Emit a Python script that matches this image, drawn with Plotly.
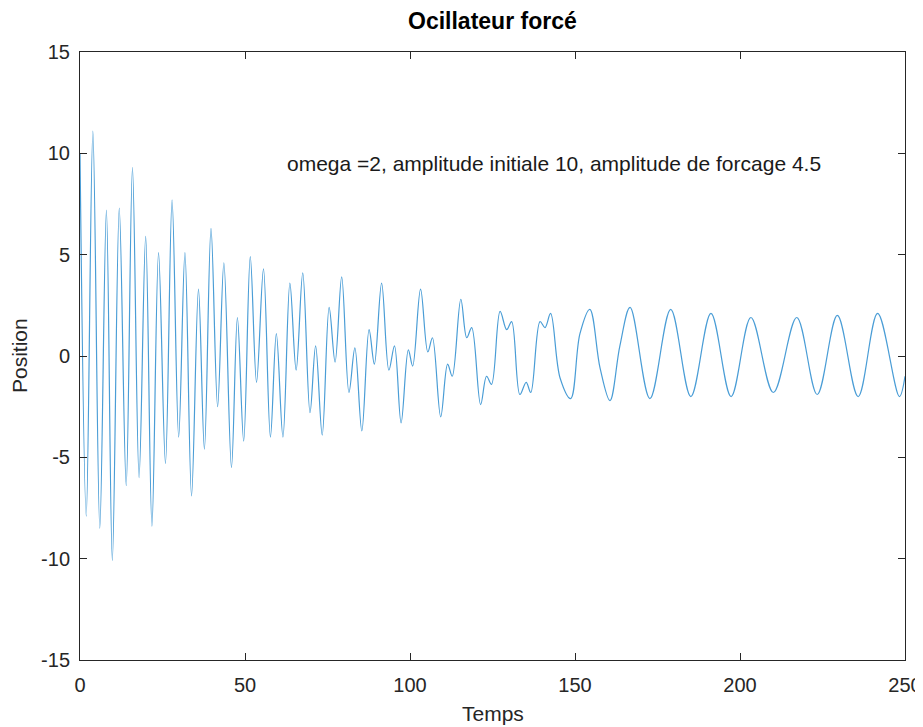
import plotly.graph_objects as go

# extrema (and a few shoulder points)
temps = [0, 1.9, 3.9, 6.0, 8.0, 9.8, 11.9, 14.0, 15.9, 17.9, 19.9, 21.8, 23.8, 25.9, 27.9, 29.9,
         31.8, 33.8, 35.9, 37.7, 39.7, 41.7, 43.6, 45.9, 47.7, 49.6, 51.6, 53.5, 55.6, 57.7, 59.5,
         61.5, 63.6, 65.5, 67.5, 69.7, 71.4, 73.4, 75.5, 77.3, 79.3, 81.5, 83.3, 85.4, 87.6, 89.2,
         91.4, 93.6, 95.3, 97.3, 99.5, 100.8, 103.2, 105.4, 106.8, 109.3, 111.4, 112.8, 115.4,
         117.2, 118.7, 121.4, 123.2, 124.7, 127.3, 129.3, 130.8, 133.3, 135.2, 136.6, 139.4, 140.9,
         142.6, 145.5, 148.7, 151.5, 154.5, 157.6, 160.6, 163.6, 166.7, 172.7, 179.0, 185.1, 191.2,
         197.3, 203.3, 210.1, 217.2, 223.4, 229.5, 235.8, 241.7, 248.3, 250]
position = [10, -7.9, 11.1, -8.5, 7.2, -10.1, 7.3, -6.4, 9.3, -6.0, 5.9, -8.4, 5.1, -5.3, 7.7, -4.0,
            5.1, -6.9, 3.3, -4.6, 6.3, -2.5, 4.6, -5.5, 1.9, -4.2, 4.9, -1.3, 4.3, -4.0, 1.1,
            -4.0, 3.6, -0.7, 4.1, -2.8, 0.5, -3.9, 2.4, -0.3, 3.9, -1.8, 0.4, -3.7, 1.3, -0.4,
            3.6, -0.7, 0.5, -3.3, 0.3, -0.5, 3.3, 0.2, 0.9, -3.0, -0.4, -1.0, 2.8,
            0.9, 1.4, -2.4, -1.0, -1.4, 2.2, 1.3, 1.7, -1.9, -1.3, -1.8, 1.7, 1.4,
            2.1, -1.1, -2.1, 1.1, 2.3, -0.6, -2.2, 0.5, 2.4, -2.1, 2.3, -2.0, 2.1,
            -2.0, 1.9, -1.8, 1.9, -1.9, 2.0, -2.0, 2.1, -2.0, -1.0]

x_ticks = [0, 50, 100, 150, 200, 250]
x_labels = ["0", "50", "100", "150", "200", "250"]
y_ticks = [-15, -10, -5, 0, 5, 10, 15]
y_labels = ["-15", "-10", "-5", "0", "5", "10", "15"]

title_text = "Ocillateur forcé"
note_text = "omega =2, amplitude initiale 10, amplitude de forcage 4.5"
x_title = "Temps"
y_title = "Position"

FONT = "Liberation Sans, Arial, sans-serif"
AXC = "#262626"

fig = go.Figure()
fig.add_trace(go.Scatter(x=temps, y=position, mode="lines",
                         line=dict(color="#4a9dd6", width=1.2, shape="spline", smoothing=1.0),
                         showlegend=False, hoverinfo="skip"))

axis_common = dict(showgrid=False, zeroline=False, showline=True, linecolor=AXC, linewidth=1,
                   mirror="ticks", ticks="inside", ticklen=7, tickcolor=AXC, tickwidth=1,
                   automargin=False,
                   tickfont=dict(family=FONT, size=20, color=AXC))

# the page body adds an 8px offset, so the figure is shrunk by that amount
fig.update_layout(
    width=915, height=719,
    margin=dict(l=72, r=18, t=44, b=67),
    paper_bgcolor="white", plot_bgcolor="white",
    xaxis=dict(range=[0, 250], tickvals=x_ticks, ticktext=x_labels, ticklabelstandoff=7,
               **axis_common),
    yaxis=dict(range=[-15, 15], tickvals=y_ticks, ticktext=y_labels, ticklabelstandoff=5,
               **axis_common),
    annotations=[
        dict(text=note_text, x=62, y=9.5, xref="x", yref="y", xanchor="left",
             yanchor="middle", showarrow=False,
             font=dict(family=FONT, size=21, color="#1a1a1a")),
        dict(text="<b>" + title_text + "</b>", x=0.5, y=1, xref="paper", yref="paper",
             xanchor="center", yanchor="middle", yshift=31, showarrow=False,
             font=dict(family=FONT, size=23, color="black")),
        dict(text=x_title, x=0.5, y=0, xref="paper", yref="paper",
             xanchor="center", yanchor="middle", yshift=-53, showarrow=False,
             font=dict(family=FONT, size=21, color=AXC)),
        dict(text=y_title, x=0, y=0.5, xref="paper", yref="paper", textangle=-90,
             xanchor="center", yanchor="middle", xshift=-61, showarrow=False,
             font=dict(family=FONT, size=21, color=AXC)),
    ],
)

fig.write_html("out.html")
